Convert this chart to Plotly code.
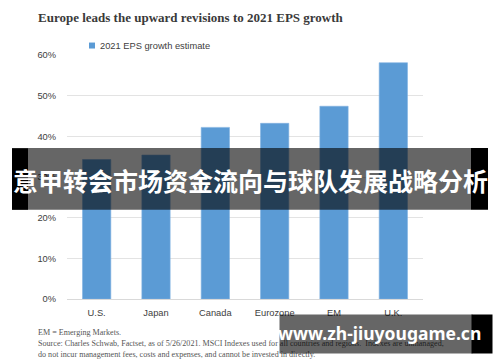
import plotly.graph_objects as go

categories = ["U.S.", "Japan", "Canada", "Eurozone", "EM", "U.K."]
eps_growth = [34.3, 35.4, 42.2, 43.2, 47.4, 58.1]
series_name = "2021 EPS growth estimate"
y_ticks = [0, 10, 20, 30, 40, 50, 60]
y_tick_labels = ["0%", "10%", "20%", "30%", "40%", "50%", "60%"]

title_text = "Europe leads the upward revisions to 2021 EPS growth"
footer_lines = [
    "EM = Emerging Markets.",
    "Source: Charles Schwab, Factset, as of 5/26/2021. MSCI Indexes used for all countries and regions.  Indexes are unmanaged,",
    "do not incur management fees, costs and expenses, and cannot be invested in directly.",
]
banner_text = "意甲转会市场资金流向与球队发展战略分析"
watermark_text = "www.zh-jiuyougame.cn"

W, H = 500, 362
L, R, T, B = 67, 77, 54.5, 62.5
PW, PH = W - L - R, H - T - B


def px(x):
    return (x - L) / PW


def py(y):
    return (H - B - y) / PH


fig = go.Figure()
fig.add_trace(go.Bar(
    x=categories, y=eps_growth, name=series_name,
    marker=dict(color="#5b9bd5", line=dict(color="#7fb0e0", width=0.6)),
    width=0.477, showlegend=False,
))

shapes = []
annotations = []

# title
annotations.append(dict(text="<b>" + title_text + "</b>", x=px(36), y=py(17), xref="paper", yref="paper",
                        xanchor="left", yanchor="middle", showarrow=False,
                        font=dict(family="Liberation Serif", size=13, color="#3a3a3a"),
                        ))
# legend
shapes.append(dict(type="rect", xref="paper", yref="paper", x0=px(89), x1=px(95),
                   y0=py(42), y1=py(48), fillcolor="#5b9bd5", line=dict(width=0)))
annotations.append(dict(text=series_name, x=px(97.5), y=py(45), xref="paper", yref="paper",
                        xanchor="left", yanchor="middle", showarrow=False,
                        font=dict(family="Liberation Sans", size=9.3, color="#404040")))
# footer
for i, (line, yy) in enumerate(zip(footer_lines, [333, 344.5, 355.5])):
    annotations.append(dict(text=line, x=px(36), y=py(yy), xref="paper", yref="paper",
                            xanchor="left", yanchor="middle", showarrow=False,
                            font=dict(family="Liberation Serif", size=8.1, color="#555555")))

# banner band
shapes.append(dict(type="rect", xref="paper", yref="paper", x0=px(12), x1=px(28),
                   y0=py(210), y1=py(148), fillcolor="black", line=dict(width=0), layer="above"))
shapes.append(dict(type="rect", xref="paper", yref="paper", x0=px(471), x1=px(488),
                   y0=py(210), y1=py(148), fillcolor="black", line=dict(width=0), layer="above"))
shapes.append(dict(type="rect", xref="paper", yref="paper", x0=px(28), x1=px(471),
                   y0=py(210), y1=py(148), fillcolor="rgba(0,0,0,0.6)", line=dict(width=0),
                   layer="above"))
annotations.append(dict(text="<b>" + banner_text + "</b>", x=px(250), y=py(180), xref="paper",
                        yref="paper", xanchor="center", yanchor="middle", showarrow=False,
                        font=dict(family="Noto Sans CJK SC", size=25, color="white")))

# watermark band (annotations so it sits above footer text)
annotations.append(dict(text=" ", x=px(471), y=py(315), xref="paper", yref="paper",
                        xanchor="left", yanchor="top", showarrow=False, width=20, height=38,
                        bgcolor="black", borderpad=0, font=dict(size=1)))
annotations.append(dict(text=" ", x=px(279), y=py(315), xref="paper", yref="paper",
                        xanchor="left", yanchor="top", showarrow=False, width=192, height=38,
                        bgcolor="rgba(0,0,0,0.6)", borderpad=0, font=dict(size=1)))
annotations.append(dict(text="<b>" + watermark_text + "</b>", x=px(379), y=py(334),
                        xref="paper", yref="paper", xanchor="center", yanchor="middle",
                        showarrow=False,
                        font=dict(family="Noto Sans", size=17.5, color="white")))

fig.update_layout(
    width=W, height=H,
    margin=dict(l=L, r=R, t=T, b=B, pad=0),
    paper_bgcolor="white", plot_bgcolor="white",
    shapes=shapes, annotations=annotations,
    bargap=0.5,
    xaxis=dict(showline=False, ticks="", ticklabelstandoff=7,
               tickfont=dict(family="Liberation Sans", size=9.3, color="#404040"),
               showgrid=False, fixedrange=True),
    yaxis=dict(range=[0, 60], tickvals=y_ticks, ticktext=y_tick_labels, showline=False,
               gridcolor="#e3e3e3", gridwidth=1, zeroline=True, zerolinecolor="#d9d9d9",
               zerolinewidth=1, ticks="", ticklabelstandoff=10,
               tickfont=dict(family="Liberation Sans", size=9.3, color="#404040"),
               fixedrange=True),
)

fig.write_html("out.html", config={"displayModeBar": False},
               post_script="document.body.style.margin='0';document.body.style.overflow='hidden';")
